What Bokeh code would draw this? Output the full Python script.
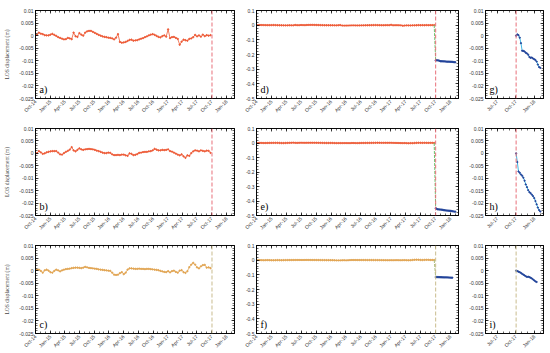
import pandas as pd
from math import pi
from bokeh.plotting import figure
from bokeh.layouts import column, row
from bokeh.models import (FixedTicker, LinearAxis, Range1d, Span, Label, ColumnDataSource,
                          CustomJSTickFormatter)
from bokeh.embed import file_html
from bokeh.resources import INLINE

# ---------------- data ----------------
pre_start, pre_step = "2014-10-10", "12D"     # acquisition schedule before the event
post_start, post_step = "2017-10-03", "6D"    # acquisition schedule after the event
event_date = "2017-10-03"

disp_a = [0.0004,0.0012,0.0008,0.0006,0.0002,0.0001,0.0001,0.0004,0.0007,0.0003,
          -0.0001,-0.0006,-0.0009,-0.0012,-0.0015,-0.0014,-0.0009,-0.0011,-0.0014,0.0012,
          -0.0002,-0.0005,0.0010,0.0004,0.0000,0.0012,0.0017,0.0019,0.0019,0.0015,
          0.0011,0.0007,0.0003,0.0000,-0.0003,-0.0005,-0.0006,-0.0008,-0.0009,-0.0011,
          -0.0015,-0.0008,0.0006,-0.0025,-0.0028,-0.0027,-0.0025,-0.0021,-0.0017,-0.0016,
          -0.0020,-0.0019,-0.0018,-0.0015,-0.0012,-0.0010,-0.0006,-0.0003,0.0001,0.0004,
          0.0006,0.0003,-0.0001,-0.0005,-0.0007,-0.0002,0.0001,-0.0004,0.0025,-0.0010,
          -0.0006,-0.0005,-0.0009,-0.0013,-0.0036,-0.0024,-0.0016,-0.0018,-0.0020,-0.0013,
          -0.0011,-0.0006,0.0003,-0.0003,0.0001,-0.0004,0.0004,-0.0002,0.0002,0.0000,
          0.0002]
disp_b = [0.0001,0.0009,0.0004,-0.0002,0.0000,0.0004,0.0006,0.0008,0.0009,0.0009,
          0.0009,0.0003,-0.0004,-0.0005,0.0001,0.0006,0.0010,0.0015,0.0025,0.0012,
          0.0008,0.0014,0.0020,0.0016,0.0014,0.0016,0.0017,0.0018,0.0017,0.0016,
          0.0014,0.0011,0.0009,0.0006,0.0003,0.0001,0.0001,0.0003,0.0002,-0.0004,
          -0.0007,-0.0007,-0.0006,-0.0007,-0.0005,-0.0005,-0.0008,-0.0010,0.0000,-0.0002,
          -0.0007,-0.0006,-0.0003,0.0002,0.0003,0.0005,0.0006,0.0006,0.0008,0.0009,
          0.0012,0.0018,0.0015,0.0012,0.0012,0.0014,0.0013,0.0014,0.0016,0.0009,
          0.0007,0.0003,-0.0001,-0.0005,-0.0008,-0.0004,-0.0012,-0.0018,-0.0008,-0.0010,
          0.0001,0.0008,0.0012,0.0011,0.0008,0.0012,0.0010,0.0008,0.0011,0.0010,
          0.0002]
disp_c = [0.0004,0.0004,-0.0001,-0.0008,0.0001,0.0004,0.0000,-0.0006,-0.0008,-0.0001,
          0.0004,0.0001,-0.0003,0.0001,0.0004,0.0006,0.0007,0.0008,0.0010,0.0011,
          0.0012,0.0012,0.0011,0.0010,0.0012,0.0015,0.0013,0.0011,0.0010,0.0009,
          0.0008,0.0007,0.0005,0.0004,0.0003,0.0002,0.0001,0.0000,-0.0001,-0.0008,
          -0.0016,-0.0017,-0.0016,-0.0010,-0.0006,-0.0014,-0.0008,0.0004,0.0009,0.0009,
          0.0008,0.0007,0.0007,0.0008,0.0007,0.0007,0.0006,0.0007,0.0007,0.0006,
          0.0005,0.0004,0.0003,0.0002,-0.0001,-0.0003,-0.0005,-0.0006,-0.0002,-0.0007,
          -0.0002,0.0000,-0.0005,-0.0008,0.0000,0.0002,-0.0006,-0.0009,-0.0002,0.0014,
          0.0024,0.0031,0.0024,0.0013,0.0009,0.0017,0.0022,0.0023,0.0012,0.0013,
          0.0010]

post_g = [0.0, 0.0005, 0.0002, -0.0008, -0.0030, -0.0060, -0.0061, -0.0063, -0.0068, -0.0071,
          -0.0076, -0.0085, -0.0088, -0.0087, -0.0091, -0.0094, -0.0097, -0.0103, -0.0115,
          -0.0125, -0.0128]
post_h = [0.0, -0.0035, -0.0073, -0.0078, -0.0085, -0.0090, -0.0098, -0.0110, -0.0125, -0.0136,
          -0.0148, -0.0156, -0.0160, -0.0166, -0.0172, -0.0180, -0.0192, -0.0205, -0.0218,
          -0.0228, -0.0234]
post_i = [0.0, -0.0002, -0.0004, -0.0006, -0.0009, -0.0013, -0.0016, -0.0019, -0.0022, -0.0025,
          -0.0024, -0.0026, -0.0028, -0.0031, -0.0035, -0.0039, -0.0043, -0.0045]

# co-event jump of the combined series (d, e, f)
jump_d, jump_e, jump_f = -0.240, -0.450, -0.115

small_ticks = [0.01, 0.005, 0, -0.005, -0.01, -0.015, -0.02, -0.025]
small_labels = ["0.01", "0.005", "0", "-0.005", "-0.01", "-0.015", "-0.02", "-0.025"]
big_ticks = [0.1, 0, -0.1, -0.2, -0.3, -0.4, -0.5]
big_labels = ["0.1", "0", "-0.1", "-0.2", "-0.3", "-0.4", "-0.5"]

x_tick_dates = ["2014-10-01","2015-01-01","2015-04-01","2015-07-01","2015-10-01","2016-01-01",
                "2016-04-01","2016-07-01","2016-10-01","2017-01-01","2017-04-01","2017-07-01",
                "2017-10-01","2018-01-01"]
x_tick_labels = ["Oct-14","Jan-15","Apr-15","Jul-15","Oct-15","Jan-16","Apr-16","Jul-16",
                 "Oct-16","Jan-17","Apr-17","Jul-17","Oct-17","Jan-18"]
zoom_tick_dates = ["2017-07-01", "2017-10-01", "2018-01-01"]
zoom_tick_labels = ["Jul-17", "Oct-17", "Jan-18"]

# ---------------- helpers ----------------
def ms(d):
    return pd.Timestamp(d).value / 1e6

pre_dates = [ms(d) for d in pd.date_range(pre_start, periods=len(disp_a), freq=pre_step)]
post_dates_all = [ms(d) for d in pd.date_range(post_start, periods=25, freq=post_step)]
month_minor = [ms(d) for d in pd.date_range("2014-06-01", "2018-06-01", freq="MS")]

RED = "#ee5a36"
TAN = "#e2a552"
CYAN = "#3fb6e2"
NAVY = "#23439a"
FONT = "Liberation Sans"
SERIF = "Liberation Serif"

# (left border, frame width, right border) per column; (top, frame height, bottom) per row
col_w = [(35, 199, 2), (20, 202, 5), (22, 58, 2)]
row_h = [(10, 88, 19), (10, 87, 20), (10, 88, 20)]


def style(ax, show_labels=True):
    ax.major_tick_in = 3
    ax.major_tick_out = 0
    ax.minor_tick_in = 2
    ax.minor_tick_out = 0
    ax.axis_line_color = "black"
    ax.axis_line_width = 0.8
    ax.major_tick_line_width = 0.7
    ax.minor_tick_line_width = 0.6
    ax.major_label_text_font = FONT
    ax.major_label_text_color = "#333333"
    ax.major_label_text_font_size = "5px"
    if show_labels:
        ax.major_label_standoff = 2
    else:
        ax.formatter = CustomJSTickFormatter(code="return ''")
        ax.major_label_standoff = 0


def panel(ci, ri, letter, x_start, x_end, ylim, yticks, ylabels, xt_dates, xt_labels,
          series, line_color, event_color, post=None, jump=0.0, connector_color=None):
    l, fw, r = col_w[ci]
    t, fh, b = row_h[ri]
    p = figure(frame_width=fw, frame_height=fh, output_backend="svg", toolbar_location=None,
               x_range=Range1d(ms(x_start), ms(x_end)), y_range=Range1d(*ylim),
               min_border_left=l, min_border_right=r, min_border_top=t, min_border_bottom=b,
               background_fill_color="white", border_fill_color="white")
    p.xgrid.visible = False
    p.ygrid.visible = False
    p.outline_line_color = "black"
    p.outline_line_width = 0.8

    xt = [ms(d) for d in xt_dates]
    minor_x = month_minor
    yminor_step = (yticks[0] - yticks[1]) / 5.0
    yminor = [ylim[0] + k * yminor_step for k in range(int(round((ylim[1] - ylim[0]) / yminor_step)) + 1)]

    p.xaxis.ticker = FixedTicker(ticks=xt, minor_ticks=minor_x)
    p.xaxis.major_label_overrides = {v: s for v, s in zip(xt, xt_labels)}
    p.xaxis.major_label_orientation = pi / 4
    p.yaxis.ticker = FixedTicker(ticks=yticks, minor_ticks=yminor)
    p.yaxis.major_label_overrides = {v: s for v, s in zip(yticks, ylabels)}
    style(p.xaxis[0])
    style(p.yaxis[0])

    top = LinearAxis(ticker=FixedTicker(ticks=xt, minor_ticks=minor_x))
    style(top, False)
    p.add_layout(top, "above")
    right = LinearAxis(ticker=FixedTicker(ticks=yticks, minor_ticks=yminor))
    style(right, False)
    p.add_layout(right, "right")

    if ci == 0:
        p.yaxis[0].axis_label = "LOS displacement (m)"
        p.yaxis[0].axis_label_text_font = SERIF
        p.yaxis[0].axis_label_text_font_size = "5.5px"
        p.yaxis[0].axis_label_text_font_style = "normal"
        p.yaxis[0].axis_label_standoff = 6

    p.add_layout(Span(location=ms(event_date), dimension="height", line_color=event_color,
                      line_dash="4 2", line_width=1.0))

    if series is not None:
        src = ColumnDataSource(dict(x=pre_dates, y=series))
        p.line("x", "y", source=src, line_color=line_color, line_width=0.8)
        p.scatter("x", "y", source=src, size=1.4, color=line_color)

    if post is not None:
        pd_x = post_dates_all[:len(post)]
        py = [jump + v for v in post]
        if connector_color is not None and series is not None:
            p.line([pre_dates[-1], pd_x[0]], [series[-1], py[0]], line_color=connector_color,
                   line_width=1.0, line_dash="3 1")
        src2 = ColumnDataSource(dict(x=pd_x, y=py))
        p.line("x", "y", source=src2, line_color=CYAN, line_width=1.0)
        p.scatter("x", "y", source=src2, size=1.3, color=NAVY)

    p.add_layout(Label(x=4, y=4, x_units="screen", y_units="screen", text=letter,
                       text_font=SERIF, text_font_size="10px", text_color="black"))
    return p


FULL0, FULL1 = "2014-10-01", "2018-02-20"
Z0, Z1 = "2017-05-04", "2018-02-16"
small = (-0.025, 0.01)
big = (-0.5, 0.1)

pa = panel(0, 0, "a)", FULL0, FULL1, small, small_ticks, small_labels, x_tick_dates, x_tick_labels,
           disp_a, RED, "#e8707a")
pb = panel(0, 1, "b)", FULL0, FULL1, small, small_ticks, small_labels, x_tick_dates, x_tick_labels,
           disp_b, RED, "#e8707a")
pc = panel(0, 2, "c)", FULL0, FULL1, small, small_ticks, small_labels, x_tick_dates, x_tick_labels,
           disp_c, TAN, "#c9bc8e")
pd_ = panel(1, 0, "d)", FULL0, FULL1, big, big_ticks, big_labels, x_tick_dates, x_tick_labels,
            disp_a, RED, "#e8707a", post_g, jump_d, "#6cc06c")
pe = panel(1, 1, "e)", FULL0, FULL1, big, big_ticks, big_labels, x_tick_dates, x_tick_labels,
           disp_b, RED, "#e8707a", post_h, jump_e, "#6cc06c")
pf = panel(1, 2, "f)", FULL0, FULL1, big, big_ticks, big_labels, x_tick_dates, x_tick_labels,
           disp_c, TAN, "#c9bc8e", post_i, jump_f, "#a9bb7a")
pg = panel(2, 0, "g)", Z0, Z1, small, small_ticks, small_labels, zoom_tick_dates, zoom_tick_labels,
           None, RED, "#e8707a", post_g, 0.0)
ph = panel(2, 1, "h)", Z0, Z1, small, small_ticks, small_labels, zoom_tick_dates, zoom_tick_labels,
           None, RED, "#e8707a", post_h, 0.0)
pi_ = panel(2, 2, "i)", Z0, Z1, small, small_ticks, small_labels, zoom_tick_dates, zoom_tick_labels,
            None, TAN, "#c9bc8e", post_i, 0.0)

layout = column(row(pa, pd_, pg), row(pb, pe, ph), row(pc, pf, pi_))
open("out.html", "w").write(file_html(layout, INLINE))
